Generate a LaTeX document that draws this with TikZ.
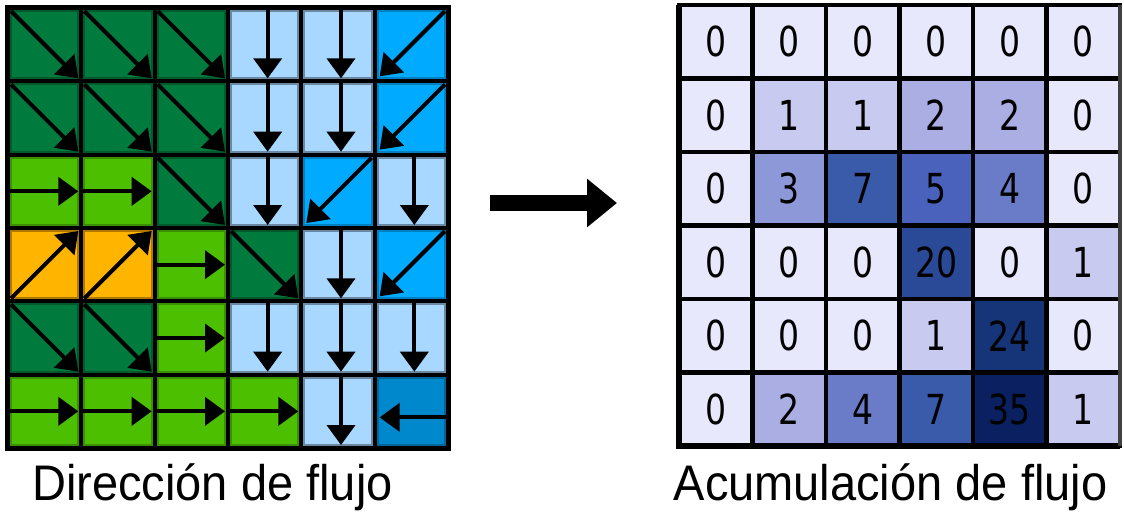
\documentclass[tikz,border=0pt]{standalone}
\usepackage{fontspec}
\setmainfont{Liberation Sans}
\newfontfamily\numfont{DejaVu Sans}
\usetikzlibrary{arrows.meta,calc}
\definecolor{dg}{HTML}{007A3D}\definecolor{dgB}{HTML}{005A2C}
\definecolor{lg}{HTML}{4CBF00}\definecolor{lgB}{HTML}{3A9000}
\definecolor{lb}{HTML}{A8D8FF}\definecolor{lbB}{HTML}{6A88A4}
\definecolor{sw}{HTML}{00AAFF}\definecolor{swB}{HTML}{0080C0}
\definecolor{og}{HTML}{FFB400}\definecolor{ogB}{HTML}{B07800}
\definecolor{wb}{HTML}{0088CC}\definecolor{wbB}{HTML}{006699}
\definecolor{v0}{HTML}{E8E8FC}\definecolor{v1}{HTML}{C8CAF0}
\definecolor{v2}{HTML}{AAAEE2}\definecolor{v3}{HTML}{8C98D8}
\definecolor{v4}{HTML}{6A7CC8}\definecolor{v5}{HTML}{4A62BC}
\definecolor{v7}{HTML}{3A5AAA}\definecolor{v20}{HTML}{2A4A98}
\definecolor{v24}{HTML}{163478}\definecolor{v35}{HTML}{0A2060}
\tikzset{
  lcell/.style={rectangle, inner sep=0pt, outer sep=0pt, minimum size=50.5pt, line width=1.3pt},
  rcell/.style={rectangle, inner sep=0pt, outer sep=0pt, minimum size=55.125pt, draw=black, line width=3.2pt,
    font=\numfont\fontsize{31}{31}\selectfont},
  flow/.style={line width=3pt, -{Triangle[length=15pt,width=21pt]}},
  bigarrow/.style={line width=12pt, -{Triangle[length=22.5pt,width=35pt]}},
  label/.style={anchor=base, font=\fontsize{37.5}{40}\selectfont}
}
\newcommand\lcell[3]{\node[lcell,#1] (L-#2-#3) at ({8+(#3-0.5)*73.333},{8+(#2-0.5)*73.333}) {};}
\newcommand\flSE[2]{\lcell{fill=dg,draw=dgB}{#1}{#2}\draw[flow] (L-#1-#2.north west) -- (L-#1-#2.south east);}
\newcommand\flS[2]{\lcell{fill=lb,draw=lbB}{#1}{#2}\draw[flow] ($(L-#1-#2.north)+(3,-3)$) -- ($(L-#1-#2.south)+(3,0)$);}
\newcommand\flSW[2]{\lcell{fill=sw,draw=swB}{#1}{#2}\draw[flow] (L-#1-#2.north east) -- ($(L-#1-#2.south west)+(2,-2)$);}
\newcommand\flE[2]{\lcell{fill=lg,draw=lgB}{#1}{#2}\draw[flow] ($(L-#1-#2.west)+(-2,0)$) -- (L-#1-#2.east);}
\newcommand\flNE[2]{\lcell{fill=og,draw=ogB}{#1}{#2}\draw[flow] (L-#1-#2.south west) -- (L-#1-#2.north east);}
\newcommand\flW[2]{\lcell{fill=wb,draw=wbB}{#1}{#2}\draw[flow] ($(L-#1-#2.east)+(3,6)$) -- ($(L-#1-#2.west)+(2,6)$);}
\begin{document}
\begin{tikzpicture}[x=0.75pt,y=-0.75pt]
\useasboundingbox (0,0) rectangle (1124,512);
% left grid
\fill[black] (5,5) rectangle (451,451);
\foreach \r/\row in {1/{SE,SE,SE,S,S,SW},2/{SE,SE,SE,S,S,SW},3/{E,E,SE,S,SW,S},4/{NE,NE,E,SE,S,SW},5/{SE,SE,E,S,S,S},6/{E,E,E,E,S,W}}{
  \foreach \d [count=\c] in \row {\csname fl\d\endcsname{\r}{\c}}
}
% right grid
\foreach \r/\row in {1/{0,0,0,0,0,0},2/{0,1,1,2,2,0},3/{0,3,7,5,4,0},4/{0,0,0,20,0,1},5/{0,0,0,1,24,0},6/{0,2,4,7,35,1}}{
  \foreach \v [count=\c] in \row {
    \node[rcell, fill=v\v] (R-\r-\c) at ({679+(\c-0.5)*73.5},{5+(\r-0.5)*73.5}) {\scalebox{0.8}[1]{\v}};
  }
}
\draw[line width=4.5pt] (R-1-1.north west) -- (R-6-1.south west) -- (R-6-6.south east);
\draw[line width=3.5pt, color=black!75] (R-1-6.north east) -- (R-6-6.south east);
% middle arrow
\coordinate (a0) at (490,203);
\coordinate (a1) at (617,203);
\draw[bigarrow] (a0) -- (a1);
% labels
\node[label] (t1) at (212.5,500) {\scalebox{0.94}[1]{Dirección de flujo}};
\node[label] (t2) at (890.5,500) {\scalebox{0.94}[1]{Acumulación de flujo}};
\end{tikzpicture}
\end{document}
